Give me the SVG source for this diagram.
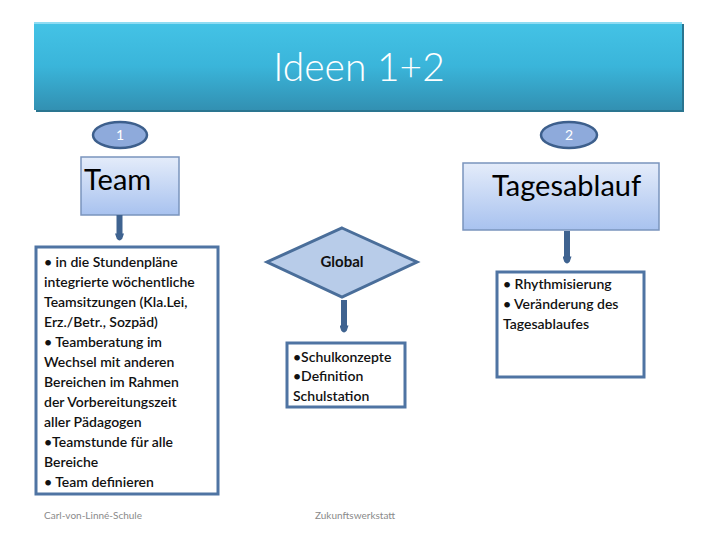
<svg xmlns="http://www.w3.org/2000/svg" width="720" height="540" viewBox="0 0 720 540">
<defs>
<linearGradient id="gTitle" x1="0" y1="0" x2="0" y2="1">
<stop offset="0" stop-color="#44c3e6"/>
<stop offset="0.5" stop-color="#3ab5da"/>
<stop offset="1" stop-color="#3290b2"/>
</linearGradient>
<linearGradient id="gBox" x1="0" y1="0" x2="0" y2="1">
<stop offset="0" stop-color="#e4ecfa"/>
<stop offset="1" stop-color="#a8c2ef"/>
</linearGradient>
<marker id="arr" viewBox="0 0 10 10" refX="4" refY="5" markerWidth="1.5" markerHeight="1.5" orient="auto" markerUnits="strokeWidth">
<path d="M0,0 L6,2 Q10,5 6,8 L0,10 z" fill="#3f6390"/>
</marker>
</defs>
<style>
.t{font-family:Lato,"Open Sans","Liberation Sans",sans-serif;}
.body{font-size:14px;fill:#111;font-weight:600;}
.num{font-size:14px;fill:#fff;text-anchor:middle;}
.head{font-size:29px;fill:#000;}
.lbox{fill:#fff;stroke:#4f74a3;stroke-width:3;}
.hbox{fill:url(#gBox);stroke:#7a94bd;stroke-width:1.5;}
.ell{fill:#8eaadb;stroke:#3d5f8c;stroke-width:2.5;}
.conn{stroke:#3f6390;stroke-width:6;fill:none;marker-end:url(#arr);}
.foot{font-size:10px;fill:#8a8a8a;}
.glob{font-size:15px;font-weight:700;fill:#111;text-anchor:middle;}
</style>
<rect width="720" height="540" fill="#fff"/>

<g id="title">
<rect x="36" y="24" width="648" height="88" fill="#2a7590"/>
<rect x="34" y="22" width="648" height="88" fill="url(#gTitle)"/>
<rect x="34" y="22" width="648" height="2" fill="#8fdcf3"/>
<text class="t" x="359" y="81" font-size="39" font-weight="300" fill="#fff" text-anchor="middle">Ideen 1+2</text>
</g>

<g id="num1">
<ellipse class="ell" cx="120" cy="135" rx="27" ry="13"/>
<text class="t num" x="120" y="140">1</text>
</g>
<g id="num2">
<ellipse class="ell" cx="569" cy="135" rx="28" ry="13"/>
<text class="t num" x="569" y="140">2</text>
</g>

<g id="team">
<rect class="hbox" x="81" y="157" width="98" height="58"/>
<text class="t head" x="84" y="190">Team</text>
</g>

<g id="tagesablauf">
<rect class="hbox" x="463" y="163" width="196" height="67"/>
<text class="t head" x="492" y="196">Tagesablauf</text>
</g>

<g id="teamdetails">
<rect class="lbox" x="36" y="247" width="182" height="247"/>
<text class="t body" x="44">
<tspan x="44" y="267">• in die Stundenpläne</tspan>
<tspan x="44" y="287">integrierte wöchentliche</tspan>
<tspan x="44" y="307">Teamsitzungen (Kla.Lei,</tspan>
<tspan x="44" y="327">Erz./Betr., Sozpäd)</tspan>
<tspan x="44" y="347">• Teamberatung im</tspan>
<tspan x="44" y="367">Wechsel mit anderen</tspan>
<tspan x="44" y="387">Bereichen im Rahmen</tspan>
<tspan x="44" y="407">der Vorbereitungszeit</tspan>
<tspan x="44" y="427">aller Pädagogen</tspan>
<tspan x="44" y="447">•Teamstunde für alle</tspan>
<tspan x="44" y="467">Bereiche</tspan>
<tspan x="44" y="487">• Team definieren</tspan>
</text>
</g>

<g id="global">
<polygon points="342,228 417,262 342,297 267,262" fill="#b8cce9" stroke="#4a6e9a" stroke-width="3"/>
<text class="t glob" x="342" y="267">Global</text>
</g>

<g id="schulkonzepte">
<rect class="lbox" x="287" y="343" width="118" height="64"/>
<text class="t body">
<tspan x="293" y="362">•Schulkonzepte</tspan>
<tspan x="293" y="381">•Definition</tspan>
<tspan x="293" y="401">Schulstation</tspan>
</text>
</g>

<g id="rhythmus">
<rect class="lbox" x="497" y="272" width="147" height="105"/>
<text class="t body">
<tspan x="503" y="289">• Rhythmisierung</tspan>
<tspan x="503" y="309">• Veränderung des</tspan>
<tspan x="503" y="329">Tagesablaufes</tspan>
</text>
</g>

<g id="connectors">
<line class="conn" x1="119.5" y1="215" x2="119.5" y2="237"/>
<line class="conn" x1="344" y1="300" x2="344" y2="329"/>
<line class="conn" x1="567" y1="231" x2="567" y2="260"/>
</g>

<g id="footer">
<text class="t foot" x="44" y="519">Carl-von-Linné-Schule</text>
<text class="t foot" x="315" y="519">Zukunftswerkstatt</text>
</g>
</svg>
